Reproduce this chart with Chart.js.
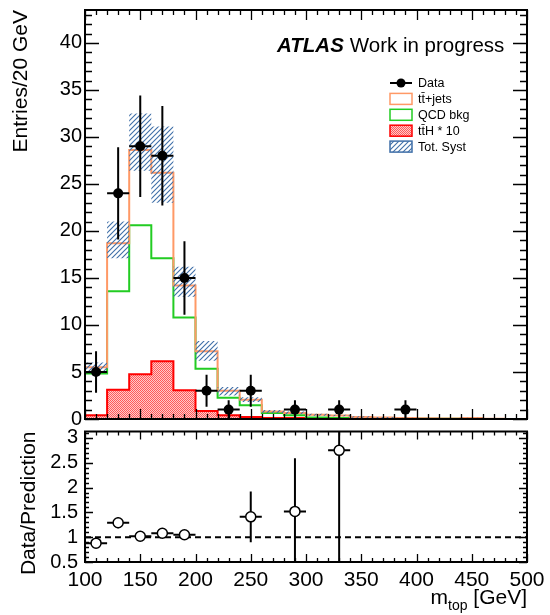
<!DOCTYPE html>
<html>
<head>
<meta charset="utf-8">
<script src="https://cdn.jsdelivr.net/npm/chart.js@4.4.1/dist/chart.umd.min.js"></script>
<style>
html, body { margin: 0; padding: 0; background: #fff; width: 550px; height: 615px; overflow: hidden; }
.box { position: absolute; left: 0; width: 550px; }
</style>
</head>
<body>
<div class="box" style="top:0;height:440px"><canvas id="topChart"></canvas></div>
<div class="box" style="top:425px;height:190px"><canvas id="ratioChart"></canvas></div>
<script>
// ---------------- data ----------------
const binLow = [100,120,140,160,180,200,220,240,260,280,300,320,340,360,380,400,420,440,460,480];
const xMin = 100;
const xMax = 500;
const binHalfWidth = 10;

const ttbarJets = [5.5, 18.7, 28.6, 26.2, 14.2, 7.2, 3.0, 2.05, 0.8, 0.65, 0.45, 0.36, 0.2, 0.15, 0.1, 0.05, 0.05, 0.1, 0.02, 0.0];
const qcdBkg    = [4.85, 13.6, 20.6, 17.1, 10.8, 5.35, 2.25, 1.45, 0.65, 0.4, 0.15, 0.1, 0.08, 0.05, 0.05, 0.03, 0.02, 0.02, 0.01, 0.0];
const ttH10     = [0.4, 3.1, 4.75, 6.15, 3.05, 0.85, 0.4, 0.2, 0.1, 0.1, 0.05, 0.05, 0.03, 0.03, 0.02, 0.02, 0.01, 0.01, 0.0, 0.0];
const systLow   = [5.1, 17.1, 26.4, 23.0, 13.0, 6.2, 2.5, 1.8, 0.65, 0.5, 0.35, 0.28, 0.14, 0.1, 0.07, 0.03, 0.03, 0.07, 0.01, 0.0];
const systHigh  = [6.0, 21.0, 32.5, 31.1, 16.2, 8.3, 3.4, 2.3, 0.95, 0.8, 0.55, 0.45, 0.28, 0.2, 0.14, 0.07, 0.07, 0.14, 0.03, 0.0];

const dataX   = [110, 130, 150, 170, 190, 210, 230, 250, 290, 330, 390];
const dataY   = [5, 24, 29, 28, 15, 3, 1, 3, 1, 1, 1];
const dataErr = [2.2, 4.9, 5.4, 5.3, 3.9, 1.7, 1.0, 1.7, 1.0, 1.0, 1.0];

const ratioX       = [110, 130, 150, 170, 190, 250, 290, 330];
const ratioY       = [0.88, 1.29, 1.02, 1.08, 1.05, 1.41, 1.52, 2.75];
const ratioErrLow  = [0.1, 0.11, 0.04, 0.04, 0.04, 0.51, 1.52, 2.75];
const ratioErrHigh = [0.1, 0.11, 0.04, 0.04, 0.04, 0.51, 1.07, 1.5];
const ratioRef = 1;

const yTicksTop   = [0, 5, 10, 15, 20, 25, 30, 35, 40];
const yTicksRatio = [0.5, 1, 1.5, 2, 2.5, 3];
const xTicks      = [100, 150, 200, 250, 300, 350, 400, 450, 500];

const legendLabels = ['Data', 't\u0074\u0304+jets', 'QCD bkg', 't\u0074\u0304H * 10', 'Tot. Syst'];
const atlasLabel = 'ATLAS';
const atlasStatus = 'Work in progress';

// ---------------- helpers ----------------
const FONT = "'Liberation Sans', Arial, Helvetica, sans-serif";
Chart.defaults.font.family = FONT;
Chart.defaults.color = '#000';

const C_TT = '#ff9966';
const C_QCD = '#22cc22';
const C_TTH = '#ff0000';
const C_SYST = '#3f6fa8';

function makePattern(size, drawFn) {
  const c = document.createElement('canvas');
  c.width = size; c.height = size;
  const g = c.getContext('2d');
  drawFn(g, size);
  return g.createPattern(c, 'repeat');
}
const hatch = makePattern(5, (g, s) => {
  g.strokeStyle = C_SYST; g.lineWidth = 1.1;
  g.beginPath();
  g.moveTo(0, s); g.lineTo(s, 0);
  g.moveTo(-s, s); g.lineTo(s, -s);
  g.moveTo(0, 2 * s); g.lineTo(2 * s, 0);
  g.stroke();
});
const stipple = makePattern(2, (g) => {
  g.fillStyle = '#ffcaca'; g.fillRect(0, 0, 2, 2);
  g.fillStyle = '#ff5a5a'; g.fillRect(0, 0, 1, 1); g.fillRect(1, 1, 1, 1);
});

function stepPoints(vals, withBase) {
  const pts = withBase ? [{x: binLow[0], y: 0}] : [];
  vals.forEach((v, i) => pts.push({x: binLow[i], y: v}));
  pts.push({x: xMax, y: vals[vals.length - 1]});
  return pts;
}
function vErrPoints(xs, ys, lo, hi) {
  const pts = [];
  xs.forEach((x, i) => {
    pts.push({x: x, y: ys[i] - lo[i]});
    pts.push({x: x, y: ys[i] + hi[i]});
    pts.push({x: x, y: null});
  });
  return pts;
}
function hErrPoints(xs, ys) {
  const pts = [];
  xs.forEach((x, i) => {
    pts.push({x: x - binHalfWidth, y: ys[i]});
    pts.push({x: x + binHalfWidth, y: ys[i]});
    pts.push({x: x + binHalfWidth, y: null});
  });
  return pts;
}

// frame + inward ticks like ROOT
const frameTicks = {
  id: 'frameTicks',
  afterDatasetsDraw(chart, args, o) {
    const {ctx, chartArea: a} = chart;
    const xs = chart.scales.x, ys = chart.scales.y;
    ctx.save();
    ctx.strokeStyle = '#000';
    ctx.lineWidth = 1.3;
    ctx.beginPath();
    for (let i = 0; ; i++) {
      const v = xs.min + i * o.xMinor;
      if (v > xs.max + 1e-6) break;
      const p = Math.round(xs.getPixelForValue(v)) + 0.5;
      const L = (i % o.xDiv === 0) ? o.xMaj : o.xMin;
      ctx.moveTo(p, a.bottom); ctx.lineTo(p, a.bottom - L);
      ctx.moveTo(p, a.top); ctx.lineTo(p, a.top + L);
    }
    for (let i = 0; ; i++) {
      const v = o.yStart + i * o.yMinor;
      if (v > ys.max + 1e-6) break;
      const p = Math.round(ys.getPixelForValue(v)) + 0.5;
      const L = (i % o.yDiv === 0) ? o.yMaj : o.yMin;
      ctx.moveTo(a.left, p); ctx.lineTo(a.left + L, p);
      ctx.moveTo(a.right, p); ctx.lineTo(a.right - L, p);
    }
    ctx.stroke();
    ctx.lineWidth = 2;
    ctx.strokeRect(a.left, a.top, a.right - a.left, a.bottom - a.top);
    ctx.restore();
  }
};

const topDecor = {
  id: 'topDecor',
  afterDraw(chart) {
    const ctx = chart.ctx;
    ctx.save();
    ctx.fillStyle = '#000';
    ctx.textAlign = 'left';
    ctx.textBaseline = 'alphabetic';
    ctx.font = "italic bold 20.5px " + FONT;
    ctx.fillText(atlasLabel, 277, 52);
    const w = ctx.measureText(atlasLabel).width;
    ctx.font = "20.5px " + FONT;
    ctx.fillText(atlasStatus, 277 + w + 6, 52);

    // legend
    const x0 = 390, x1 = 412, tx = 418, y0 = 83, dy = 15.9;
    ctx.font = "12.5px " + FONT;
    ctx.textBaseline = 'middle';
    const styles = [null,
      {stroke: C_TT, fill: '#fff'},
      {stroke: C_QCD, fill: '#fff'},
      {stroke: C_TTH, fill: stipple},
      {stroke: C_SYST, fill: hatch}];
    legendLabels.forEach((lab, i) => {
      const y = y0 + i * dy;
      if (i === 0) {
        ctx.strokeStyle = '#000'; ctx.lineWidth = 2;
        ctx.beginPath(); ctx.moveTo(x0, y); ctx.lineTo(x1, y); ctx.stroke();
        ctx.fillStyle = '#000';
        ctx.beginPath(); ctx.arc((x0 + x1) / 2, y, 4.5, 0, Math.PI * 2); ctx.fill();
      } else {
        const s = styles[i];
        ctx.fillStyle = s.fill;
        ctx.fillRect(x0, y - 5.5, x1 - x0, 11);
        ctx.strokeStyle = s.stroke; ctx.lineWidth = 1.5;
        ctx.strokeRect(x0, y - 5.5, x1 - x0, 11);
      }
      ctx.fillStyle = '#000';
      ctx.fillText(lab, tx, y + 0.5);
    });
    ctx.restore();
  }
};

const ratioDecor = {
  id: 'ratioDecor',
  afterDraw(chart) {
    const ctx = chart.ctx, a = chart.chartArea;
    ctx.save();
    ctx.fillStyle = '#000';
    ctx.textBaseline = 'alphabetic';
    ctx.textAlign = 'left';
    const big = "21px " + FONT, small = "14px " + FONT;
    ctx.font = big; const wm = ctx.measureText('m').width;
    const wr = ctx.measureText(' [GeV]').width;
    ctx.font = small; const ws = ctx.measureText('top').width;
    const x0 = a.right - (wm + ws + wr);
    const base = 179;
    ctx.font = big; ctx.fillText('m', x0, base);
    ctx.font = small; ctx.fillText('top', x0 + wm, base + 6);
    ctx.font = big; ctx.fillText(' [GeV]', x0 + wm + ws, base);
    ctx.restore();
  }
};

const noPad = s => { s.paddingTop = 0; s.paddingBottom = 0; s.paddingLeft = 0; s.paddingRight = 0; };
const plainLabel = v => String(v);

// ---------------- top chart ----------------
new Chart(document.getElementById('topChart'), {
  type: 'line',
  data: {
    datasets: [
      { label: 'Data', data: dataX.map((x, i) => ({x: x, y: dataY[i]})), showLine: false,
        pointRadius: 5, pointBackgroundColor: '#000', pointBorderColor: '#000', pointBorderWidth: 0 },
      { label: 'dataErrV', data: vErrPoints(dataX, dataY, dataErr, dataErr), borderColor: '#000', borderWidth: 2,
        pointRadius: 0, spanGaps: false, fill: false },
      { label: 'dataErrH', data: hErrPoints(dataX, dataY), borderColor: '#000', borderWidth: 2,
        pointRadius: 0, spanGaps: false, fill: false },
      { label: 'systLow', data: stepPoints(systLow, false), stepped: 'before', borderWidth: 0,
        borderColor: 'rgba(0,0,0,0)', pointRadius: 0, fill: false },
      { label: 'Tot. Syst', data: stepPoints(systHigh, false), stepped: 'before', borderWidth: 0,
        borderColor: 'rgba(0,0,0,0)', pointRadius: 0, fill: '-1', backgroundColor: hatch },
      { label: 'ttbar+jets', data: stepPoints(ttbarJets, true), stepped: 'before', borderColor: C_TT,
        borderWidth: 2, pointRadius: 0, fill: false },
      { label: 'QCD bkg', data: stepPoints(qcdBkg, true), stepped: 'before', borderColor: C_QCD,
        borderWidth: 2, pointRadius: 0, fill: false },
      { label: 'ttH * 10', data: stepPoints(ttH10, true), stepped: 'before', borderColor: C_TTH,
        borderWidth: 2, pointRadius: 0, fill: 'origin', backgroundColor: stipple }
    ]
  },
  options: {
    responsive: true, maintainAspectRatio: false, animation: false, events: [],
    layout: { padding: { left: 0, right: 23, top: 10, bottom: 21 } },
    plugins: {
      legend: { display: false }, tooltip: { enabled: false },
      frameTicks: { xMinor: 10, xDiv: 5, xMaj: 10, xMin: 5, yStart: 0, yMinor: 1, yDiv: 5, yMaj: 14, yMin: 7 }
    },
    scales: {
      x: { type: 'linear', min: xMin, max: xMax, display: false },
      y: {
        type: 'linear', min: 0, max: 43.5,
        afterFit: s => { s.width = 85; noPad(s); },
        afterBuildTicks: s => { s.ticks = yTicksTop.map(v => ({value: v})); },
        grid: { display: false, drawTicks: false }, border: { display: false },
        ticks: { font: { size: 20 }, color: '#000', padding: 3, autoSkip: false, callback: plainLabel },
        title: { display: true, text: 'Entries/20 GeV', align: 'end', color: '#000',
                 font: { size: 21 }, padding: { top: 9, bottom: 0 } }
      }
    }
  },
  plugins: [frameTicks, topDecor]
});

// ---------------- ratio chart ----------------
new Chart(document.getElementById('ratioChart'), {
  type: 'line',
  data: {
    datasets: [
      { label: 'Ratio', data: ratioX.map((x, i) => ({x: x, y: ratioY[i]})), showLine: false,
        pointRadius: 5, pointBackgroundColor: '#fff', pointBorderColor: '#000', pointBorderWidth: 1.5 },
      { label: 'ratioErrV', data: vErrPoints(ratioX, ratioY, ratioErrLow, ratioErrHigh), borderColor: '#000',
        borderWidth: 2, pointRadius: 0, spanGaps: false, fill: false },
      { label: 'ratioErrH', data: hErrPoints(ratioX, ratioY), borderColor: '#000', borderWidth: 2,
        pointRadius: 0, spanGaps: false, fill: false },
      { label: 'ref', data: [{x: xMin, y: ratioRef}, {x: xMax, y: ratioRef}], borderColor: '#000',
        borderWidth: 2, borderDash: [6, 4], pointRadius: 0, fill: false }
    ]
  },
  options: {
    responsive: true, maintainAspectRatio: false, animation: false, events: [],
    layout: { padding: { left: 0, right: 23, top: 5, bottom: 0 } },
    plugins: {
      legend: { display: false }, tooltip: { enabled: false },
      frameTicks: { xMinor: 10, xDiv: 5, xMaj: 8, xMin: 4, yStart: 0.5, yMinor: 0.1, yDiv: 5, yMaj: 8, yMin: 4 }
    },
    scales: {
      x: {
        type: 'linear', min: xMin, max: xMax,
        afterFit: s => { s.height = 53; noPad(s); },
        afterBuildTicks: s => { s.ticks = xTicks.map(v => ({value: v})); },
        grid: { display: false, drawTicks: false }, border: { display: false },
        ticks: { font: { size: 21 }, color: '#000', padding: 6, maxRotation: 0, autoSkip: false, callback: plainLabel }
      },
      y: {
        type: 'linear', min: 0.5, max: 3.13,
        afterFit: s => { s.width = 85; noPad(s); },
        afterBuildTicks: s => { s.ticks = yTicksRatio.map(v => ({value: v})); },
        grid: { display: false, drawTicks: false }, border: { display: false },
        ticks: { font: { size: 20 }, color: '#000', padding: 7, autoSkip: false, callback: plainLabel },
        title: { display: true, text: 'Data/Prediction', align: 'end', color: '#000',
                 font: { size: 21 }, padding: { top: 17, bottom: 0 } }
      }
    }
  },
  plugins: [frameTicks, ratioDecor]
});
</script>
</body>
</html>
